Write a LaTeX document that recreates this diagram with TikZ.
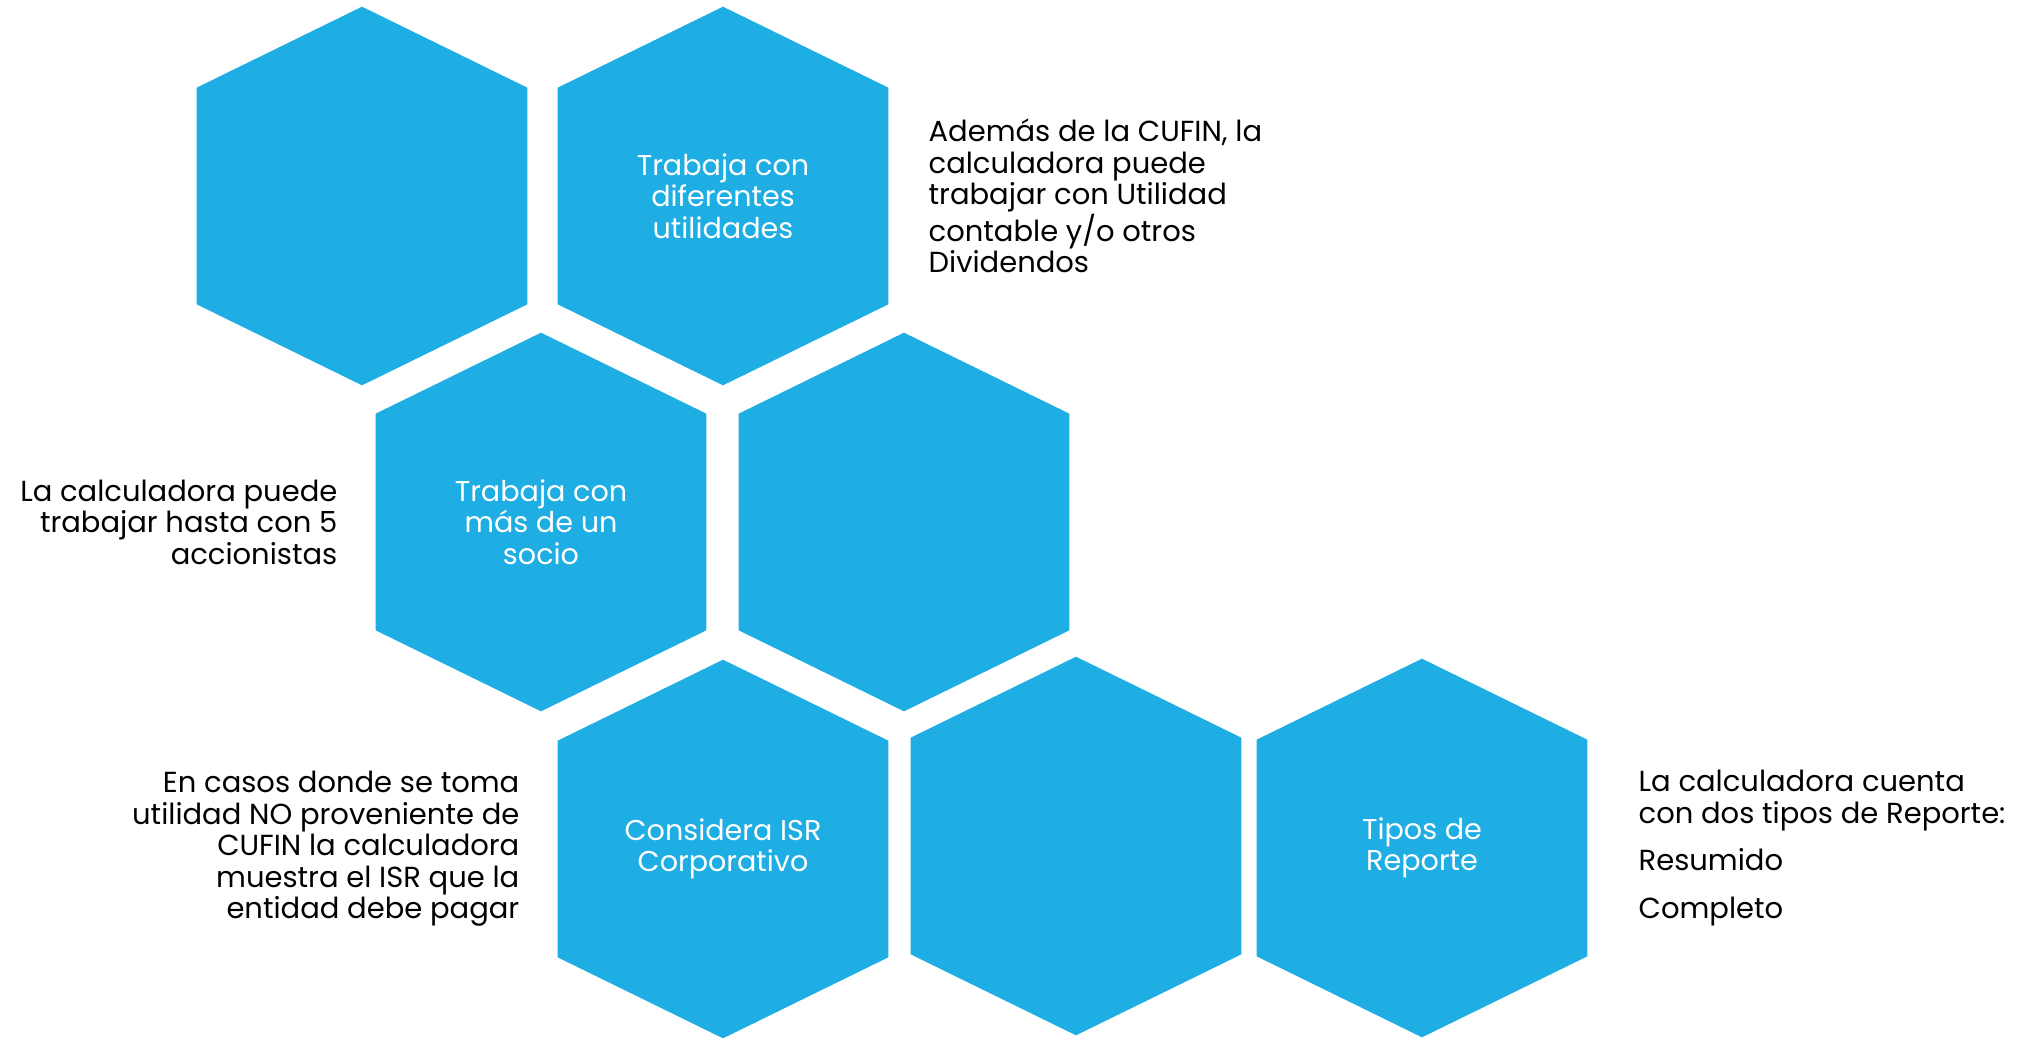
\documentclass[tikz,border=0pt]{standalone}
\usepackage{fontspec}
\setmainfont{Poppins}
\usetikzlibrary{positioning,backgrounds}
\definecolor{hexblue}{RGB}{31,174,227}
\tikzstyle{hexa} = [rectangle, minimum width=6.6cm, minimum height=7.56cm,%
    text centered, align=center, text=white, font=\fontsize{16.3}{18}\selectfont]
\tikzstyle{note} = [inner sep=0pt, text=black, font=\fontsize{16.5}{17.9}\selectfont]
\newcommand{\hexfill}[1]{\fill[hexblue] (#1.north) -- ([yshift=-1.62cm]#1.north east)
    -- ([yshift=1.62cm]#1.south east) -- (#1.south) -- ([yshift=1.62cm]#1.south west)
    -- ([yshift=-1.62cm]#1.north west) -- cycle;}

\begin{document}
\begin{tikzpicture}[x=0.02cm, y=-0.02cm]
        \useasboundingbox (0,0) rectangle (2023,1038);
        \node (h1) [hexa] at (362,196) {};
        \node (h2) [hexa] at (723,196) {Trabaja con\\diferentes\\utilidades};
        \node (h3) [hexa] at (541,522) {Trabaja con\\más de un\\socio};
        \node (h4) [hexa] at (904,522) {};
        \node (h5) [hexa] at (723,849) {Considera ISR\\Corporativo};
        \node (h6) [hexa] at (1076,846) {};
        \node (h7) [hexa] at (1422,848) {Tipos de\\Reporte};
        \node (n2) [note, align=left, right=0.8cm of h2] {Además de la CUFIN, la\\calculadora puede\\trabajar con Utilidad\\contable y/o otros\\Dividendos};
        \node (n3) [note, align=right, left=0.76cm of h3] {La calculadora puede\\trabajar hasta con 5\\accionistas};
        \node (n5) [note, align=right, left=0.76cm of h5] {En casos donde se toma\\utilidad NO proveniente de\\CUFIN la calculadora\\muestra el ISR que la\\entidad debe pagar};
        \node (n7) [note, align=left, right=1.02cm of h7] {La calculadora cuenta\\con dos tipos de Reporte:\\[0.32cm]Resumido\\[0.32cm]Completo};
        \begin{pgfonlayer}{background}
            \hexfill{h1} \hexfill{h2} \hexfill{h3} \hexfill{h4}
            \hexfill{h5} \hexfill{h6} \hexfill{h7}
        \end{pgfonlayer}
    \end{tikzpicture}
\end{document}
